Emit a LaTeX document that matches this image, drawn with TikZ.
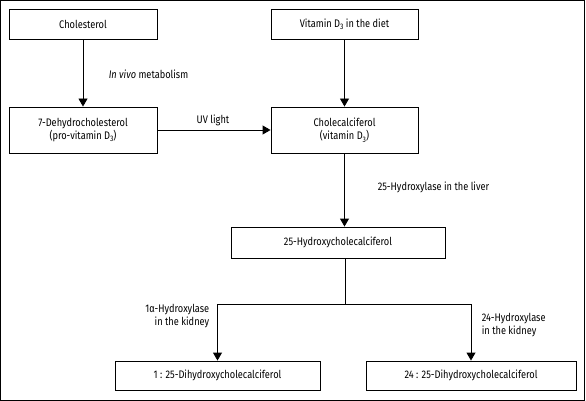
\documentclass[tikz,border=0pt]{standalone}
\usepackage{fontspec}
\setmainfont{Fira Sans}[FakeStretch=0.84]
\usepackage{tikz}
\usetikzlibrary{arrows.meta}
\newcommand{\subthree}{\raisebox{-0.35ex}{\fontsize{8}{8}\selectfont 3}}

\begin{document}
\begin{tikzpicture}[x=1pt, y=-1pt, every node/.style={font=\fontsize{11}{13.5}\selectfont}, >={Triangle[length=8pt, width=9pt]}, line width=0.9pt,
	stage/.style={draw, inner sep=2pt, align=center, minimum height=30pt}]
	\useasboundingbox (0,0) rectangle (586,401);
	\draw (0.5,0.5) rectangle (584.5,400);
	\node[stage, minimum width=148pt] (chol) at (83,24) {Cholesterol};
	\node[stage, minimum width=147pt] (diet) at (344.5,24) {Vitamin D\subthree{} in the diet};
	\node[stage, minimum width=148pt, minimum height=46pt] (dehydro) at (83,130) {7-Dehydrocholesterol\\(pro-vitamin D\subthree)};
	\node[stage, minimum width=147pt, minimum height=46pt] (calciferol) at (344.5,130) {Cholecalciferol\\(vitamin D\subthree)};
	\node[stage, minimum width=214pt, minimum height=31pt] (hydroxy) at (338,242.5) {25-Hydroxycholecalciferol};
	\node[stage, minimum width=205pt, minimum height=29pt] (dihydA) at (217.5,375.5) {1 : 25-Dihydroxycholecalciferol};
	\node[stage, minimum width=210pt, minimum height=29pt] (dihydB) at (471,375.5) {24 : 25-Dihydroxycholecalciferol};
	\coordinate (split) at (345,304);
	\draw[->] (chol) -- (dehydro);
	\draw[->] (diet) -- (calciferol);
	\draw[->] (dehydro) -- (calciferol);
	\draw[->] (calciferol) -- (calciferol |- hydroxy.north);
	\draw (split |- hydroxy.south) -- (split);
	\draw[->] (split) -| (dihydA);
	\draw[->] (split) -| (dihydB);
	\node[anchor=west] (vivo) at (105,74) {\textit{In vivo} metabolism};
	\node (uv) at (213,120) {UV light};
	\node[anchor=west] (liver) at (374,187) {25-Hydroxylase in the liver};
	\node[anchor=east, align=right] (kidneyA) at (213,316) {1α-Hydroxylase\\in the kidney};
	\node[anchor=west, align=left] (kidneyB) at (478,325) {24-Hydroxylase\\in the kidney};
\end{tikzpicture}
\end{document}
